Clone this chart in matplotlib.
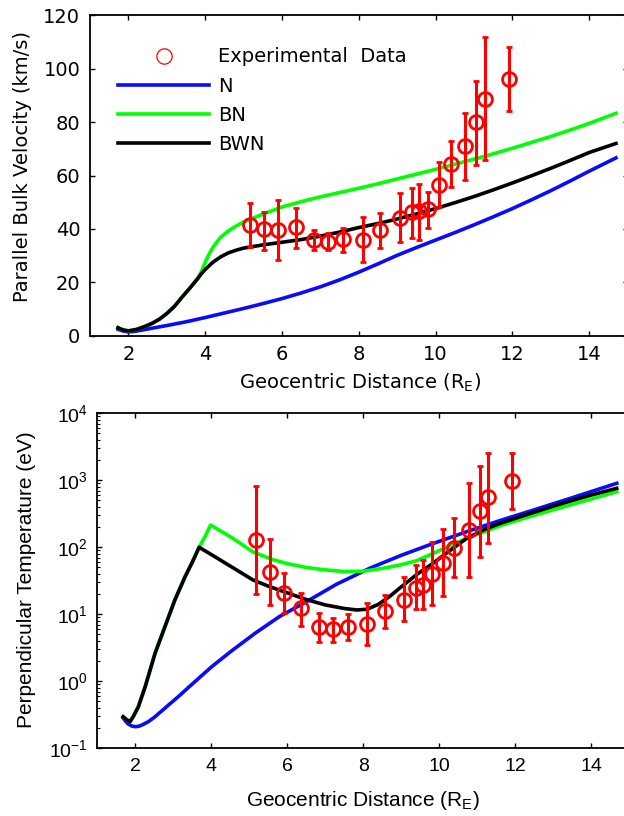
import numpy as np
import matplotlib
matplotlib.use("Agg")
import matplotlib.pyplot as plt
from matplotlib.lines import Line2D
from matplotlib.ticker import LogLocator, NullFormatter

plt.rcParams["font.family"] = ["DejaVu Sans"]
plt.rcParams["mathtext.fontset"] = "custom"
plt.rcParams["mathtext.rm"] = "Liberation Sans"
plt.rcParams["mathtext.it"] = "Liberation Sans:italic"

# experimental points (same distances in both panels)
x_exp = [5.18, 5.54, 5.90, 6.37, 6.83, 7.21, 7.60, 8.10, 8.56, 9.08,
         9.38, 9.58, 9.80, 10.10, 10.39, 10.78, 11.06, 11.29, 11.92]

# parallel bulk velocity (km/s): value, lower end, upper end
v_exp = [41.4, 39.8, 39.6, 40.6, 35.8, 35.2, 36.4, 35.8, 39.6, 43.9,
         46.4, 46.8, 47.3, 56.4, 64.3, 71.0, 80.1, 88.7, 96.2]
v_lo = [33.3, 32.1, 28.3, 32.7, 32.1, 32.0, 31.4, 27.7, 32.7, 35.2,
        36.5, 35.8, 40.2, 48.3, 55.8, 58.3, 63.9, 65.8, 84.2]
v_hi = [49.6, 46.4, 50.8, 47.7, 39.6, 38.3, 40.2, 44.5, 46.0, 53.3,
        55.2, 57.0, 53.9, 65.1, 73.0, 83.5, 95.4, 111.9, 108.2]

# perpendicular temperature (eV): value, lower end, upper end
t_exp = [128, 43, 21, 12.3, 6.4, 6.0, 6.4, 7.2, 11.3, 16.3,
         24.4, 27.4, 40, 58, 97, 181, 352, 557, 977]
t_lo = [20, 13.8, 10.6, 6.7, 3.9, 3.8, 4.1, 3.5, 6.2, 8.0,
        11.9, 11.9, 13.8, 18.8, 36, 36, 72, 115, 369]
t_hi = [822, 131, 41, 20.6, 10.6, 8.7, 10.1, 14.9, 19.4, 36,
        54, 65, 121, 186, 271, 920, 1630, 2580, 2580]

# model curves, velocity panel
xv_n = [1.73, 1.85, 2.0, 2.2, 2.5, 3.0, 3.5, 4.0, 4.5, 5.0, 5.5, 6.0, 6.5, 7.0,
        7.5, 8.0, 8.5, 9.0, 9.5, 10.0, 10.5, 11.0, 11.5, 12.0, 12.5, 13.0,
        13.5, 14.0, 14.7]
v_n = [2.4, 1.8, 1.4, 1.7, 2.5, 3.8, 5.2, 6.8, 8.5, 10.2, 12.0, 13.9, 16.0, 18.3,
       20.9, 23.8, 26.9, 30.1, 33.0, 35.8, 38.6, 41.5, 44.5, 47.6, 50.9, 54.3,
       57.9, 61.6, 66.6]

xv_bn = [1.73, 1.85, 2.0, 2.2, 2.4, 2.6, 2.8, 3.0, 3.2, 3.4, 3.6, 3.8, 3.9, 4.0,
         4.1, 4.2, 4.3, 4.4, 4.6, 4.8, 5.0, 5.5, 6.0, 6.5, 7.0, 7.5, 8.0, 8.5,
         9.0, 9.5, 10.0, 10.5, 11.0, 11.5, 12.0, 12.5, 13.0, 13.5, 14.0, 14.7]
v_bn = [3.0, 2.2, 1.8, 2.3, 3.3, 4.5, 6.1, 8.3, 11.0, 14.5, 17.8, 21.3, 24.0, 27.5,
        30.5, 33.0, 35.0, 36.8, 39.2, 41.0, 42.6, 45.5, 48.2, 50.2, 52.0, 53.6,
        55.2, 56.9, 58.7, 60.5, 62.3, 64.2, 66.1, 68.1, 70.2, 72.4, 74.6, 77.0,
        79.5, 83.3]

xv_bwn = [1.73, 1.85, 2.0, 2.2, 2.4, 2.6, 2.8, 3.0, 3.2, 3.4, 3.6, 3.8, 3.9, 4.0,
          4.2, 4.4, 4.6, 4.8, 5.0, 5.5, 6.0, 6.5, 7.0, 7.5, 8.0, 8.5, 9.0, 9.5,
          10.0, 10.5, 11.0, 11.5, 12.0, 12.5, 13.0, 13.5, 14.0, 14.7]
v_bwn = [3.0, 2.2, 1.8, 2.3, 3.3, 4.5, 6.1, 8.3, 11.0, 14.5, 17.8, 21.3, 23.2, 24.8,
         27.5, 29.5, 31.0, 32.0, 32.8, 34.0, 35.0, 36.0, 37.3, 38.8, 40.5, 42.0,
         43.7, 45.6, 47.6, 49.8, 52.1, 54.6, 57.2, 59.9, 62.7, 65.6, 68.6, 72.0]

# model curves, temperature panel
xt_n = [1.68, 1.8, 1.9, 2.0, 2.1, 2.2, 2.35, 2.52, 2.8, 3.13, 3.5, 4.01, 4.5,
        5.15, 5.8, 6.51, 7.3, 8.18, 9.0, 9.8, 10.72, 11.6, 12.5, 13.5, 14.67]
t_n = [0.282, 0.234, 0.216, 0.210, 0.214, 0.226, 0.251, 0.296, 0.407, 0.589,
       0.912, 1.65, 2.75, 5.2, 9.3, 15.5, 28.2, 49, 76, 112, 171, 251, 363,
       550, 902]

xt_bn = [1.68, 1.77, 1.86, 1.95, 2.08, 2.26, 2.52, 2.78, 3.04, 3.31, 3.5, 3.68,
         3.85, 3.98, 4.3, 4.62, 5.1, 5.6, 6.0, 6.5, 7.0, 7.5, 8.0, 8.52, 9.0,
         9.4, 9.84, 10.3, 10.72, 11.2, 11.6, 12.2, 12.9, 13.5, 14.0, 14.67]
t_bn = [0.296, 0.268, 0.249, 0.30, 0.417, 0.83, 2.62, 6.53, 16.3, 36.4, 60, 100,
        150, 215, 168, 130, 85, 66, 57, 50, 46, 43.5, 44, 48.6, 55, 63, 81, 107,
        136, 172, 210, 268, 350, 437, 525, 676]

xt_bwn = [1.68, 1.77, 1.86, 1.95, 2.08, 2.26, 2.52, 2.78, 3.04, 3.31, 3.5, 3.68,
          3.8, 4.0, 4.45, 5.1, 5.5, 6.0, 6.5, 7.0, 7.5, 7.83, 8.1, 8.4, 8.7,
          9.0, 9.4, 9.84, 10.2, 10.72, 11.2, 11.6, 12.2, 12.9, 13.5, 14.0, 14.67]
t_bwn = [0.296, 0.268, 0.249, 0.30, 0.417, 0.83, 2.62, 6.53, 16.3, 36.4, 60, 100,
         91, 78, 54.5, 32.5, 26.3, 20.9, 16.6, 13.8, 12.2, 11.6, 11.9, 14.1, 18.6,
         25.7, 39, 58, 83, 136, 186, 228, 295, 395, 500, 603, 759]

BLUE = "#0a0aff"
GREEN = "#00ff00"
RED = "#ff0000"

fig = plt.figure(figsize=(6.24, 8.16), dpi=100)
ax1 = fig.add_axes([90 / 624, 1 - 335.7 / 816, 537.5 / 624, 320.4 / 816])
ax2 = fig.add_axes([97.3 / 624, 1 - 748.3 / 816, 532 / 624, 335 / 816])

lw = 2.6

# ---- velocity panel ----
ax1.plot(xv_n, v_n, color=BLUE, lw=lw)
ax1.plot(xv_bn, v_bn, color=GREEN, lw=lw)
ax1.plot(xv_bwn, v_bwn, color="black", lw=lw)
v_err = [np.subtract(v_exp, v_lo), np.subtract(v_hi, v_exp)]
ax1.errorbar(x_exp, v_exp, yerr=v_err, fmt="o", color=RED, mfc="none",
             ms=10, mew=2, elinewidth=2.2, capsize=2, capthick=2, zorder=5)
ax1.set_xlim(1, 15)
ax1.set_ylim(0, 120)
ax1.set_xticks([2, 4, 6, 8, 10, 12, 14])
ax1.set_yticks([0, 20, 40, 60, 80, 100, 120])
ax1.tick_params(direction="in", top=True, right=True, length=3.5, width=1,
                labelsize=14, pad=7)
ax1.set_ylabel("Parallel Bulk Velocity (km/s)", fontsize=14)
ax1.set_xlabel("Geocentric Distance (R$_\\mathregular{E}$)", fontsize=14,
               math_fontfamily="dejavusans")
ax1.yaxis.set_label_coords(-0.108, 0.528)
ax1.xaxis.set_label_coords(0.502, -0.113)

handles = [
    Line2D([], [], ls="none", marker="o", mfc="none", mec=RED, ms=11, mew=0.9),
    Line2D([], [], color=BLUE, lw=lw),
    Line2D([], [], color=GREEN, lw=lw),
    Line2D([], [], color="black", lw=lw),
]
ax1.legend(handles, ["Experimental  Data", "N", "BN", "BWN"], loc="upper left",
           bbox_to_anchor=(0.0515, 0.90), borderaxespad=0, borderpad=0,
           frameon=False, fontsize=14, handlelength=4.72, handletextpad=0.45,
           labelspacing=0.53)

# ---- temperature panel ----
ax2.plot(xt_n, t_n, color=BLUE, lw=lw)
ax2.plot(xt_bn, t_bn, color=GREEN, lw=lw)
ax2.plot(xt_bwn, t_bwn, color="black", lw=lw)
t_err = [np.subtract(t_exp, t_lo), np.subtract(t_hi, t_exp)]
ax2.errorbar(x_exp, t_exp, yerr=t_err, fmt="o", color=RED, mfc="none",
             ms=10, mew=2, elinewidth=2.2, capsize=2, capthick=2, zorder=5)
ax2.set_yscale("log")
ax2.set_xlim(1, 15)
ax2.set_ylim(1e-1, 1e4)
ax2.set_xticks([2, 4, 6, 8, 10, 12, 14])
ax2.yaxis.set_major_locator(LogLocator(base=10, numticks=10))
ax2.yaxis.set_minor_locator(LogLocator(base=10, subs=np.arange(2, 10), numticks=20))
ax2.yaxis.set_minor_formatter(NullFormatter())
ax2.tick_params(which="major", direction="in", top=True, right=True, length=3.5,
                width=1, labelsize=14, pad=7)
ax2.tick_params(which="minor", direction="in", top=True, right=True, length=2,
                width=0.8)
for lab in ax2.get_xticklabels() + ax2.get_yticklabels():
    lab.set_fontfamily("Liberation Sans")
ax2.set_ylabel("Perpendicular Temperature (eV)", fontsize=15,
               fontfamily="Liberation Sans")
ax2.set_xlabel("Geocentric Distance (R$_\\mathregular{E}$)", fontsize=15,
               fontfamily="Liberation Sans")
ax2.yaxis.set_label_coords(-0.115, 0.502)
ax2.xaxis.set_label_coords(0.5, -0.12)

for ax in (ax1, ax2):
    for sp in ax.spines.values():
        sp.set_linewidth(1.3)

fig.savefig("out.png", dpi=100)
